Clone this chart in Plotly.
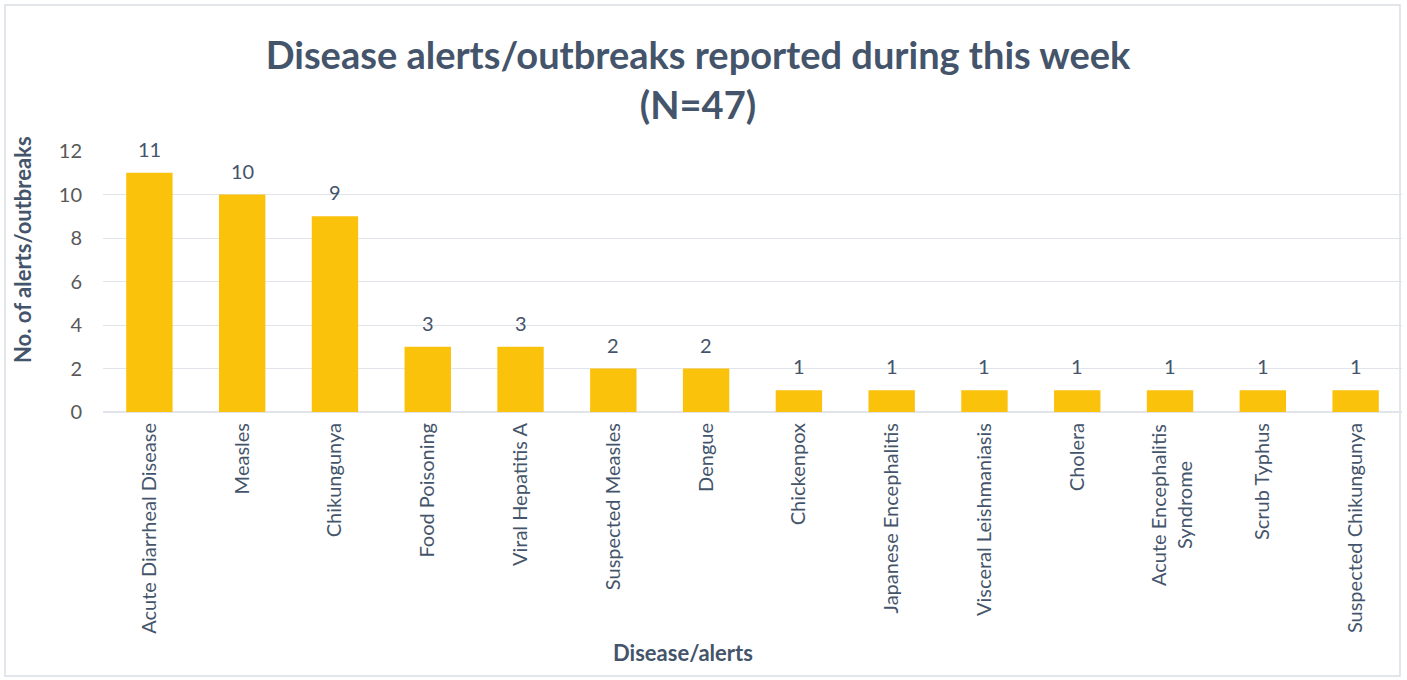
import plotly.graph_objects as go

categories = ["Acute Diarrheal Disease", "Measles", "Chikungunya", "Food Poisoning",
              "Viral Hepatitis A", "Suspected Measles", "Dengue", "Chickenpox",
              "Japanese Encephalitis", "Visceral Leishmaniasis", "Cholera",
              "Acute Encephalitis Syndrome", "Scrub Typhus", "Suspected Chikungunya"]
values = [11, 10, 9, 3, 3, 2, 2, 1, 1, 1, 1, 1, 1, 1]
y_ticks = [0, 2, 4, 6, 8, 10, 12]
wrapped = {"Acute Encephalitis Syndrome": ["Acute Encephalitis", "Syndrome"]}

W, H = 1407, 680
ml, mr, mt, mb = 103, 5, 151, 268
pw = W - ml - mr
ph = H - mt - mb

FONT = "Lato"
TXT = "#44546A"

fig = go.Figure()
fig.add_trace(go.Bar(
    x=categories, y=values, width=0.5,
    marker=dict(color="#FBC20C", line=dict(width=0)),
    hoverinfo="x+y",
))

for c, v in zip(categories, values):
    fig.add_annotation(x=c, y=v, text=str(v), showarrow=False, yanchor="bottom",
                       yshift=10, font=dict(size=20, color=TXT, family=FONT))

# wrapped category label: each line centred on the same point
ticktext = []
for c in categories:
    if c in wrapped:
        ticktext.append("")
        for line, xs in zip(wrapped[c], [-12, 14]):
            fig.add_annotation(x=c, y=0, text=line, showarrow=False, textangle=-90,
                               xanchor="center", yanchor="middle", xshift=xs, yshift=-93,
                               font=dict(size=20, color=TXT, family=FONT))
    else:
        ticktext.append(c)

fig.add_annotation(xref="paper", yref="paper", x=(683 - ml) / pw, y=-(652 - (H - mb)) / ph,
                   text="<b>Disease/alerts</b>", showarrow=False, xanchor="center", yanchor="middle",
                   font=dict(size=22, color=TXT, family=FONT))

fig.add_annotation(xref="paper", yref="paper", x=-(ml - 22) / pw, y=(H - mb - 250) / ph,
                   text="<b>No. of alerts/outbreaks</b>", showarrow=False, textangle=-90,
                   xanchor="center", yanchor="middle",
                   font=dict(size=22, color=TXT, family=FONT))

fig.update_layout(
    width=W, height=H,
    margin=dict(l=ml, r=mr, t=mt, b=mb),
    paper_bgcolor="white", plot_bgcolor="white",
    showlegend=False,
    title=dict(text="<b>Disease alerts/outbreaks reported during this week<br>(N=47)</b>",
               x=698 / W, xanchor="center", y=0.898, yanchor="top",
               font=dict(family=FONT, size=38, color=TXT)),
    font=dict(family=FONT, color=TXT),
    xaxis=dict(tickangle=-90, tickfont=dict(size=20, color=TXT, family=FONT),
               tickmode="array", tickvals=categories, ticktext=ticktext,
               showline=False, showgrid=False, ticks="", ticklabelstandoff=6),
    yaxis=dict(range=[0, 12], tickvals=y_ticks, tickfont=dict(size=20, color="#595959", family=FONT),
               gridcolor="#E1E4EA", gridwidth=1, zeroline=True, zerolinecolor="#E1E4EA",
               ticks="", ticklabelstandoff=20),
    bargap=0.5,
)

fig.add_shape(type="rect", xref="paper", yref="paper",
              x0=(5 - ml) / pw, x1=(1400 - ml) / pw,
              y0=-(676 - (H - mb)) / ph, y1=1 + (mt - 5) / ph,
              line=dict(color="#D9DDE3", width=1.5), fillcolor="rgba(0,0,0,0)", layer="below")

fig.write_html("out.html", config={"displayModeBar": False},
               post_script="document.body.style.margin='0';document.body.style.overflow='hidden';")
